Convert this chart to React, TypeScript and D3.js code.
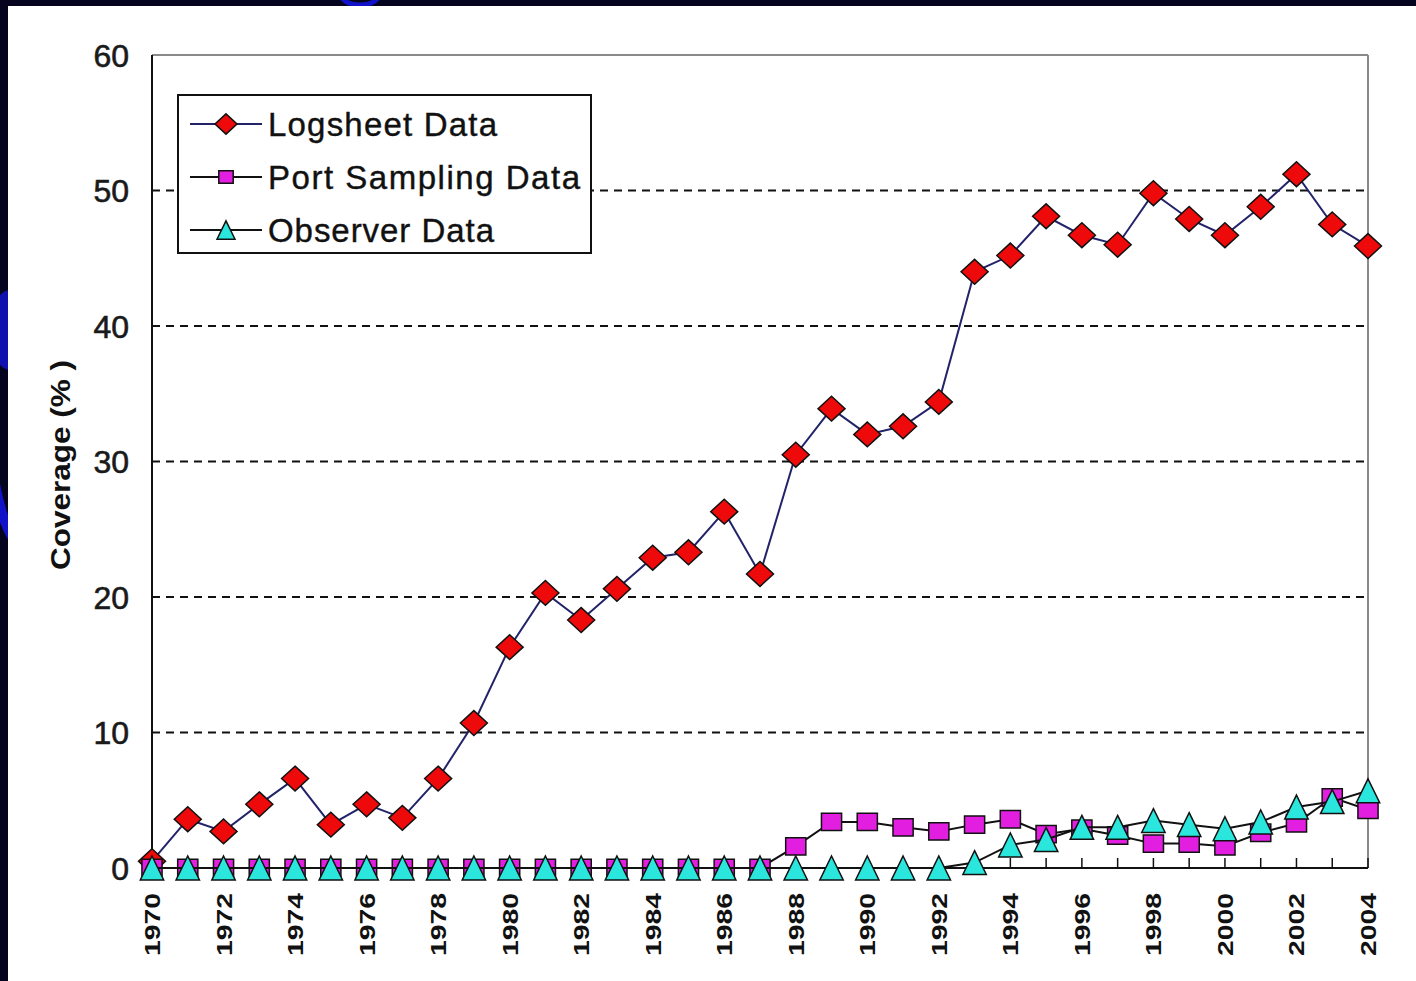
import * as d3 from 'd3'

const years = d3.range(1970, 2005)
const yTicks = [0, 10, 20, 30, 40, 50, 60]
const gridTicks = [10, 20, 30, 40, 50]
const yearLabels = years.filter(y => y % 2 === 0)

const logsheet = [
  0.5, 3.6, 2.7, 4.7, 6.6, 3.2, 4.7, 3.7, 6.6, 10.7,
  16.3, 20.3, 18.3, 20.6, 22.9, 23.3, 26.3, 21.7, 30.5, 33.9,
  32.0, 32.6, 34.4, 44.0, 45.2, 48.1, 46.7, 46.0, 49.8, 47.9,
  46.7, 48.8, 51.2, 47.5, 45.9
]
const portSampling = [
  0, 0, 0, 0, 0, 0, 0, 0, 0, 0,
  0, 0, 0, 0, 0, 0, 0, 0, 1.6, 3.4,
  3.4, 3.0, 2.7, 3.2, 3.6, 2.5, 2.9, 2.4, 1.8, 1.8,
  1.6, 2.6, 3.3, 5.2, 4.3
]
const observer = [
  0, 0, 0, 0, 0, 0, 0, 0, 0, 0,
  0, 0, 0, 0, 0, 0, 0, 0, 0, 0,
  0, 0, 0, 0.4, 1.7, 2.1, 3.0, 3.0, 3.5, 3.2,
  2.9, 3.4, 4.5, 4.9, 5.7
]

const W = 1416
const H = 981
const plot = { left: 152, right: 1368, top: 55, bottom: 868 }

const x = d3.scaleLinear().domain([1970, 2004]).range([plot.left, plot.right])
const y = d3.scaleLinear().domain([0, 60]).range([plot.bottom, plot.top])

type Shape = 'diamond' | 'square' | 'triangle'

const series: { name: string; values: number[]; line: string; fill: string; shape: Shape }[] = [
  { name: 'Logsheet Data', values: logsheet, line: '#23236a', fill: '#ee0a0a', shape: 'diamond' },
  { name: 'Port Sampling Data', values: portSampling, line: '#111', fill: '#e21ee0', shape: 'square' },
  { name: 'Observer Data', values: observer, line: '#111', fill: '#2ae6dc', shape: 'triangle' }
]

const legendLengths = [229, 312, 226]

function markerPath(shape: Shape, s: number) {
  if (shape === 'diamond') return `M0,${-s * 0.92}L${s},0L0,${s * 0.92}L${-s},0Z`
  if (shape === 'square') return `M${-s * 0.72},${-s * 0.62}H${s * 0.72}V${s * 0.62}H${-s * 0.72}Z`
  return `M0,${-s * 0.92}L${s * 0.9},${s * 0.92}H${-s * 0.9}Z`
}

const markerSize: Record<Shape, number> = { diamond: 13.5, square: 14, triangle: 13 }

export default function App() {
  const line = d3.line<number>().x((_, i) => x(years[i])).y(d => y(d))
  const font = '"Liberation Sans", Arial, sans-serif'

  return (
    <svg width={W} height={H} style={{ position: 'absolute', left: 0, top: 0, display: 'block' }}>
      <defs>
        <clipPath id="strip">
          <rect x={0} y={0} width={8} height={H} />
          <rect x={0} y={0} width={W} height={6} />
        </clipPath>
      </defs>
      <rect width={W} height={H} fill="#04041e" />
      <g clipPath="url(#strip)" fill="none" stroke="#1212c8">
        <ellipse cx={30} cy={420} rx={40} ry={130} strokeWidth={10} />
        <ellipse cx={10} cy={330} rx={20} ry={40} fill="#1010b0" stroke="none" />
        <ellipse cx={360} cy={-4} rx={18} ry={9} strokeWidth={5} />
      </g>
      <rect x={8} y={6} width={W - 8} height={H - 6} fill="#ffffff" />

      {/* grid */}
      {gridTicks.map(t => (
        <line key={t} x1={plot.left} x2={plot.right} y1={y(t)} y2={y(t)}
          stroke="#111" strokeWidth={2} strokeDasharray="8,6" />
      ))}

      {/* plot frame */}
      <line x1={plot.left} x2={plot.right} y1={plot.top} y2={plot.top} stroke="#8a8a8a" strokeWidth={2} />
      <line x1={plot.right} x2={plot.right} y1={plot.top} y2={plot.bottom} stroke="#8a8a8a" strokeWidth={2} />
      <line x1={plot.left} x2={plot.left} y1={plot.top} y2={plot.bottom} stroke="#111" strokeWidth={2} />
      <line x1={plot.left} x2={plot.right} y1={plot.bottom} y2={plot.bottom} stroke="#111" strokeWidth={2} />
      {years.map(yr => (
        <line key={yr} x1={x(yr)} x2={x(yr)} y1={plot.bottom} y2={plot.bottom - 10} stroke="#111" strokeWidth={1.5} />
      ))}

      {/* y tick labels */}
      {yTicks.map(t => (
        <text key={t} x={129} y={y(t)} dy="0.36em" textAnchor="end" fontFamily={font}
          fontSize={32} fill="#1a1a1a" stroke="#1a1a1a" strokeWidth={0.6}>{t}</text>
      ))}

      {/* x tick labels */}
      {yearLabels.map(yr => (
        <text key={yr} transform={`translate(${x(yr) + 8},${893}) rotate(-90)`} textAnchor="end"
          fontFamily={font} fontWeight="bold" fontSize={22} fill="#111"
          textLength={63} lengthAdjust="spacingAndGlyphs">{yr}</text>
      ))}

      {/* y axis title */}
      <text transform={`translate(70,465) rotate(-90)`} textAnchor="middle" fontFamily={font}
        fontWeight="bold" fontSize={28} fill="#111" textLength={210} lengthAdjust="spacingAndGlyphs">
        Coverage (% )
      </text>

      {/* series */}
      {series.map(s => (
        <g key={s.name}>
          <path d={line(s.values) ?? ''} fill="none" stroke={s.line} strokeWidth={2} />
          {s.values.map((v, i) => (
            <path key={i} transform={`translate(${x(years[i])},${y(v)})`}
              d={markerPath(s.shape, markerSize[s.shape])}
              fill={s.fill} stroke="#111" strokeWidth={1.5} />
          ))}
        </g>
      ))}

      {/* legend */}
      <rect x={178} y={95} width={413} height={158} fill="#fff" stroke="#111" strokeWidth={2} />
      {series.map((s, i) => {
        const cy = 124 + i * 53
        return (
          <g key={s.name}>
            <line x1={190} x2={262} y1={cy} y2={cy} stroke={s.line} strokeWidth={2} />
            <path transform={`translate(226,${cy})`} d={markerPath(s.shape, s.shape === 'diamond' ? 11 : 10)}
              fill={s.fill} stroke="#111" strokeWidth={1.5} />
            <text x={268} y={cy + 12} fontFamily={font} fontSize={33} fill="#111"
              stroke="#111" strokeWidth={0.4}
              textLength={legendLengths[i]} lengthAdjust="spacing">{s.name}</text>
          </g>
        )
      })}
    </svg>
  )
}
